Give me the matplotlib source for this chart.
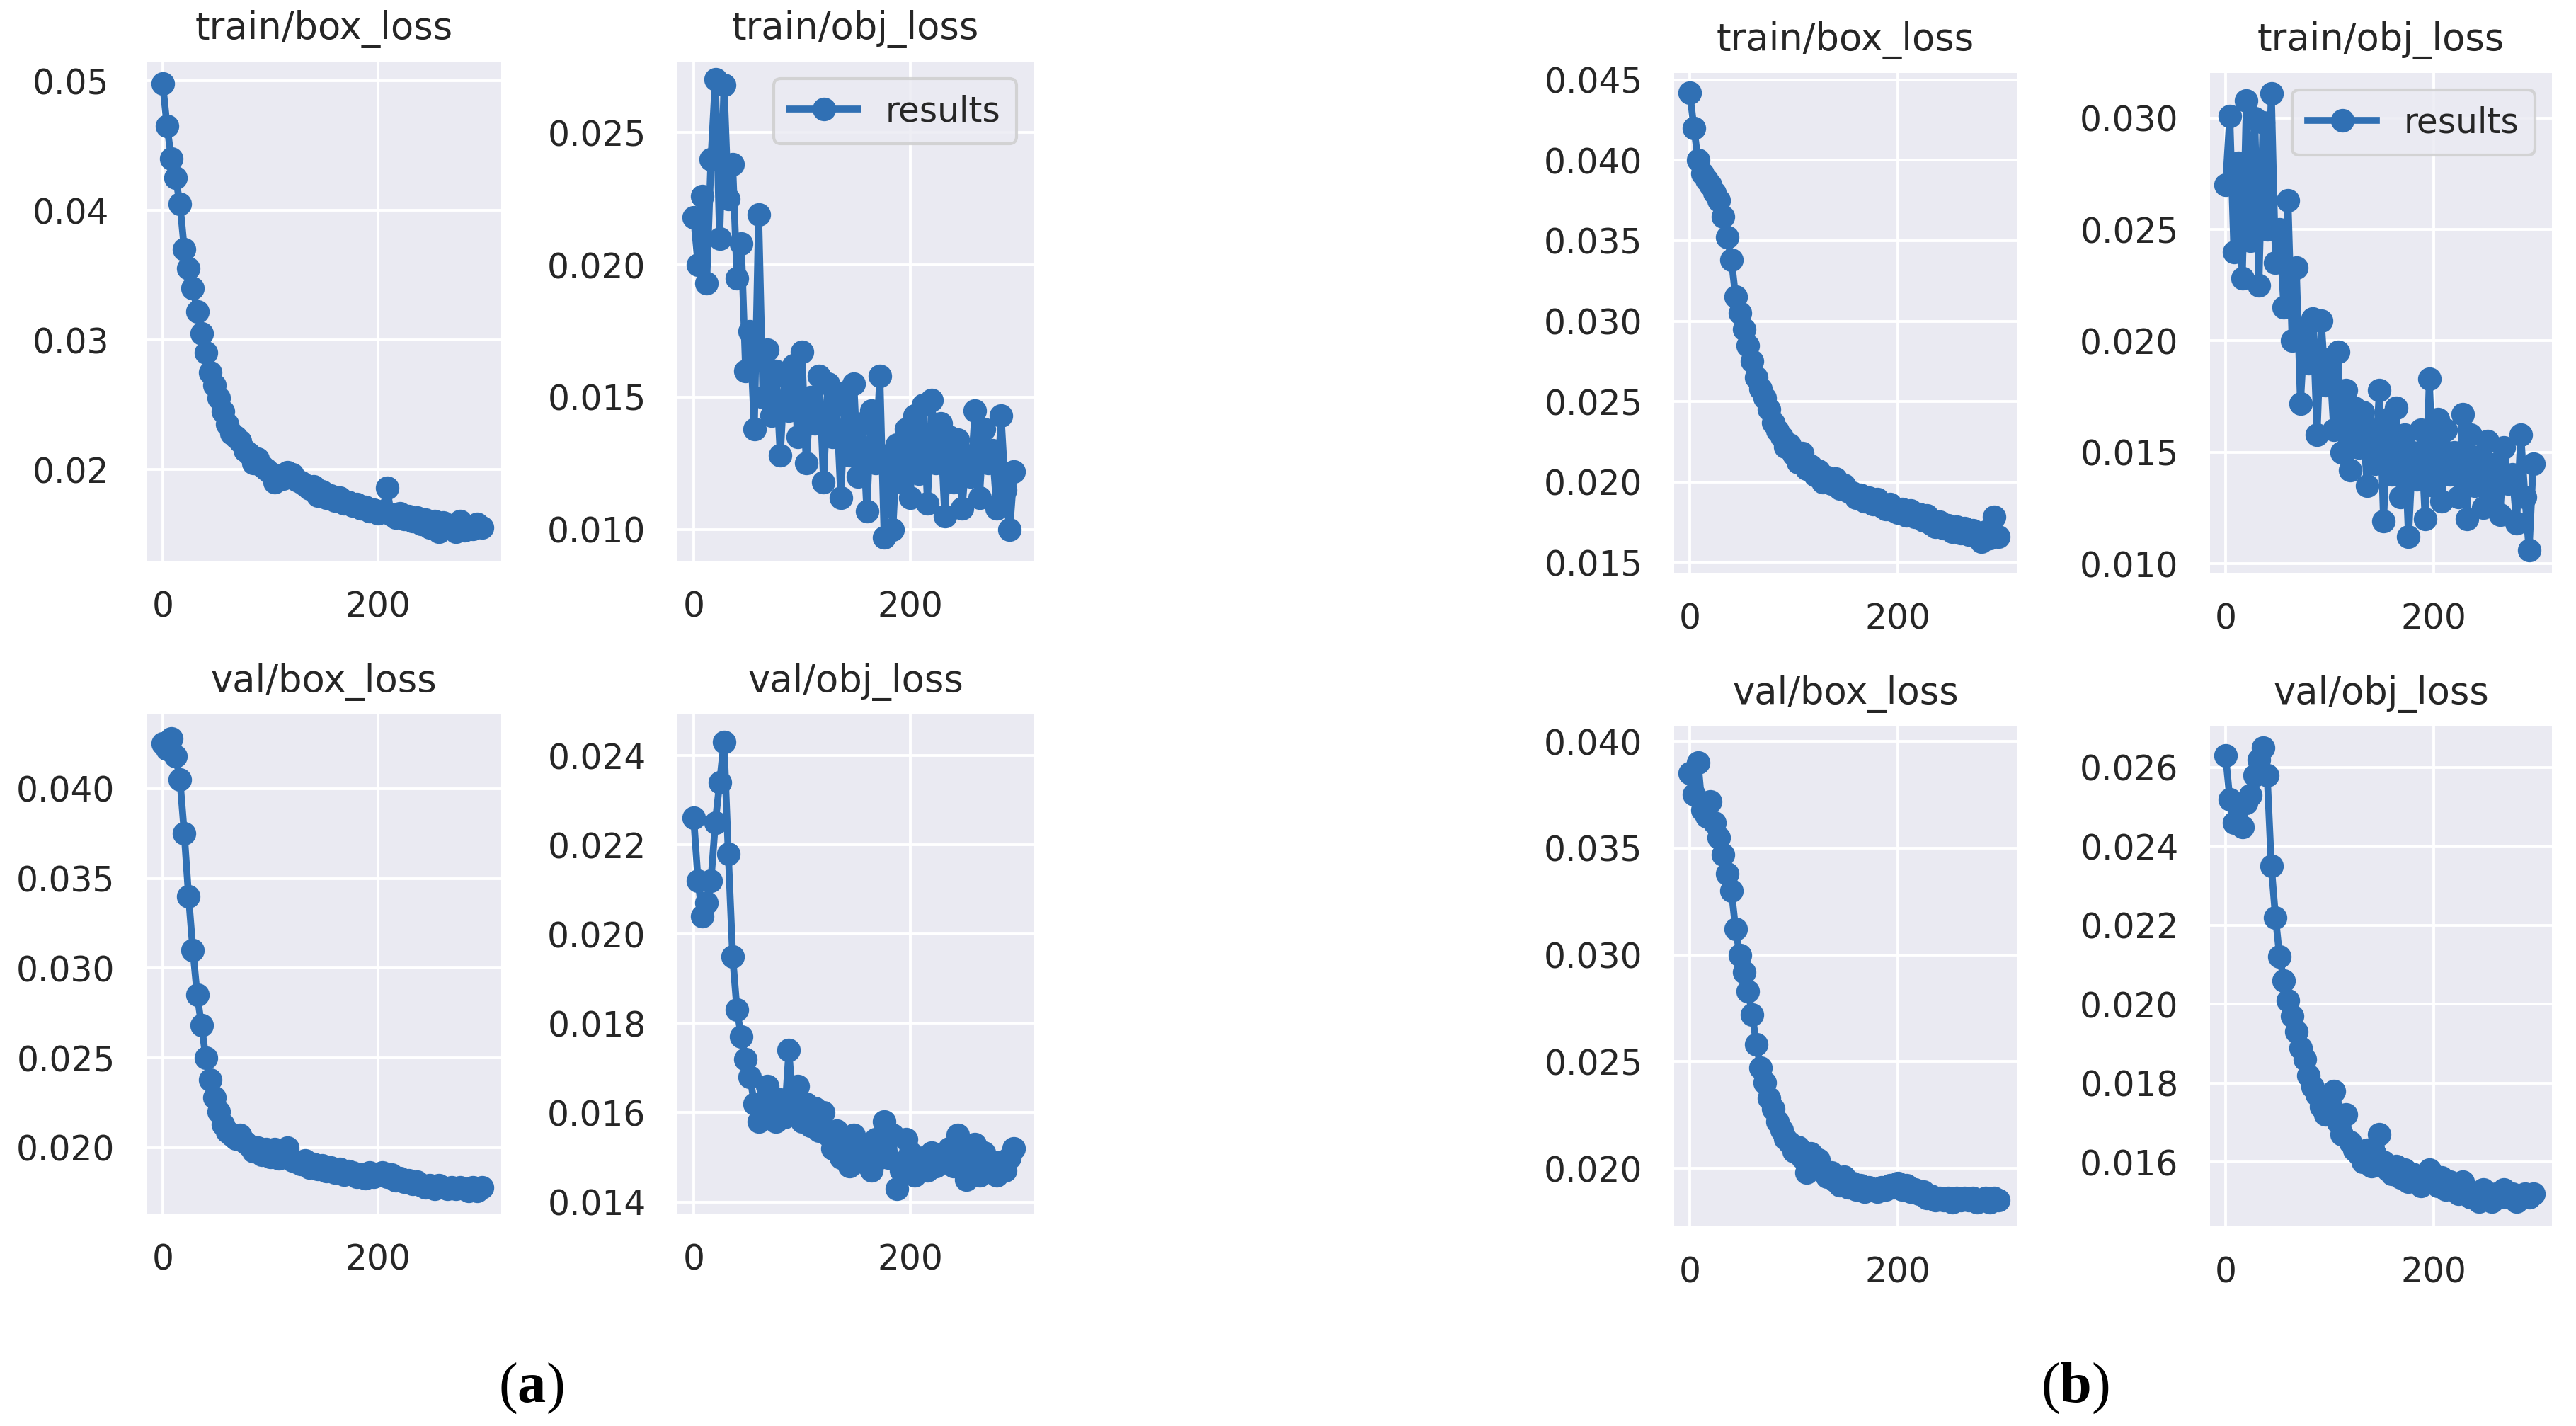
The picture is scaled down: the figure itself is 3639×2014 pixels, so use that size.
import matplotlib
matplotlib.use("Agg")
import matplotlib.pyplot as plt
import numpy as np

# epochs (every 4th epoch)
epochs = list(range(0, 300, 4))

# ---- panel (a) ----
a_train_box = [0.0498, 0.0465, 0.0440, 0.0425, 0.0405, 0.0370, 0.0355, 0.0340, 0.0322, 0.0305,
               0.0290, 0.0275, 0.0265, 0.0255, 0.0245, 0.0235, 0.0228, 0.0225, 0.0222, 0.0215,
               0.0212, 0.0205, 0.0208, 0.0203, 0.0200, 0.0197, 0.0190, 0.0195, 0.0193, 0.0198,
               0.0196, 0.0192, 0.0190, 0.0188, 0.0185, 0.0187, 0.0180, 0.0183, 0.0178, 0.0180,
               0.0176, 0.0178, 0.0174, 0.0175, 0.0172, 0.0173, 0.0170, 0.0171, 0.0168, 0.0169,
               0.0166, 0.0168, 0.0186, 0.0165, 0.0163, 0.0166, 0.0162, 0.0164, 0.0160, 0.0163,
               0.0158, 0.0161, 0.0155, 0.0160, 0.0152, 0.0159, 0.0155, 0.0157, 0.0152, 0.0160,
               0.0153, 0.0156, 0.0154, 0.0158, 0.0155]
a_train_obj = [0.0218, 0.0200, 0.0226, 0.0193, 0.0240, 0.0270, 0.0210, 0.0268, 0.0225, 0.0238,
               0.0195, 0.0208, 0.0160, 0.0175, 0.0138, 0.0219, 0.0150, 0.0168, 0.0143, 0.0160,
               0.0128, 0.0158, 0.0145, 0.0162, 0.0135, 0.0167, 0.0125, 0.0150, 0.0140, 0.0158,
               0.0118, 0.0155, 0.0135, 0.0147, 0.0112, 0.0152, 0.0128, 0.0155, 0.0120, 0.0140,
               0.0107, 0.0145, 0.0125, 0.0158, 0.0097, 0.0128, 0.0100, 0.0132, 0.0118, 0.0138,
               0.0112, 0.0143, 0.0121, 0.0147, 0.0110, 0.0149, 0.0125, 0.0140, 0.0105, 0.0135,
               0.0118, 0.0134, 0.0108, 0.0128, 0.0120, 0.0145, 0.0112, 0.0138, 0.0125, 0.0130,
               0.0108, 0.0143, 0.0115, 0.0100, 0.0122]
a_val_box = [0.0425, 0.0422, 0.0428, 0.0418, 0.0405, 0.0375, 0.0340, 0.0310, 0.0285, 0.0268,
             0.0250, 0.0238, 0.0228, 0.0220, 0.0213, 0.0209, 0.0207, 0.0205, 0.0207, 0.0203,
             0.0201, 0.0198, 0.0200, 0.0196, 0.0199, 0.0195, 0.0199, 0.0194, 0.0197, 0.0200,
             0.0193, 0.0192, 0.0191, 0.0193, 0.0189, 0.0191, 0.0188, 0.0190, 0.0187, 0.0189,
             0.0186, 0.0188, 0.0185, 0.0187, 0.0186, 0.0184, 0.0185, 0.0183, 0.0186, 0.0184,
             0.0185, 0.0186, 0.0184, 0.0185, 0.0182, 0.0183, 0.0181, 0.0182, 0.0180, 0.0181,
             0.0179, 0.0178, 0.0179, 0.0177, 0.0179, 0.0178, 0.0177, 0.0178, 0.0177, 0.0178,
             0.0177, 0.0176, 0.0178, 0.0176, 0.0178]
a_val_obj = [0.0226, 0.0212, 0.0204, 0.0207, 0.0212, 0.0225, 0.0234, 0.0243, 0.0218, 0.0195,
             0.0183, 0.0177, 0.0172, 0.0168, 0.0162, 0.0158, 0.0160, 0.0166, 0.0162, 0.0158,
             0.0163, 0.0159, 0.0174, 0.0160, 0.0166, 0.0158, 0.0162, 0.0157, 0.0161, 0.0156,
             0.0160, 0.0155, 0.0152, 0.0156, 0.0150, 0.0153, 0.0148, 0.0155, 0.0151, 0.0149,
             0.0153, 0.0147, 0.0154, 0.0150, 0.0158, 0.0150, 0.0155, 0.0143, 0.0147, 0.0154,
             0.0151, 0.0146, 0.0149, 0.0150, 0.0147, 0.0151, 0.0148, 0.0150, 0.0149, 0.0152,
             0.0148, 0.0155, 0.0150, 0.0145, 0.0149, 0.0153, 0.0146, 0.0151, 0.0147, 0.0149,
             0.0146, 0.0149, 0.0147, 0.0150, 0.0152]

# ---- panel (b) ----
b_train_box = [0.0442, 0.0420, 0.0400, 0.0392, 0.0388, 0.0385, 0.0380, 0.0375, 0.0365, 0.0352,
               0.0338, 0.0315, 0.0305, 0.0295, 0.0285, 0.0275, 0.0265, 0.0258, 0.0252, 0.0245,
               0.0237, 0.0232, 0.0228, 0.0222, 0.0223, 0.0217, 0.0212, 0.0218, 0.0208, 0.0210,
               0.0204, 0.0207, 0.0200, 0.0203, 0.0199, 0.0202, 0.0196, 0.0198, 0.0194, 0.0193,
               0.0190, 0.0192, 0.0188, 0.0190, 0.0186, 0.0189, 0.0185, 0.0183, 0.0186, 0.0182,
               0.0181, 0.0183, 0.0179, 0.0182, 0.0178, 0.0180, 0.0176, 0.0179, 0.0174, 0.0172,
               0.0175, 0.0171, 0.0173, 0.0169, 0.0172, 0.0168, 0.0171, 0.0167, 0.0170, 0.0166,
               0.0163, 0.0169, 0.0165, 0.0178, 0.0166]
b_train_obj = [0.0270, 0.0301, 0.0240, 0.0280, 0.0228, 0.0308, 0.0245, 0.0300, 0.0225, 0.0298,
               0.0250, 0.0311, 0.0235, 0.0250, 0.0215, 0.0263, 0.0200, 0.0233, 0.0172, 0.0205,
               0.0190, 0.0210, 0.0158, 0.0209, 0.0180, 0.0192, 0.0160, 0.0195, 0.0150, 0.0178,
               0.0142, 0.0170, 0.0152, 0.0168, 0.0135, 0.0160, 0.0145, 0.0178, 0.0119, 0.0165,
               0.0140, 0.0170, 0.0130, 0.0158, 0.0112, 0.0150, 0.0138, 0.0160, 0.0120, 0.0183,
               0.0135, 0.0165, 0.0128, 0.0160, 0.0140, 0.0150, 0.0130, 0.0167, 0.0120, 0.0158,
               0.0135, 0.0148, 0.0125, 0.0155, 0.0130, 0.0145, 0.0122, 0.0152, 0.0136, 0.0140,
               0.0118, 0.0158, 0.0130, 0.0106, 0.0145]
b_val_box = [0.0385, 0.0375, 0.0390, 0.0368, 0.0365, 0.0372, 0.0362, 0.0355, 0.0347, 0.0338,
             0.0330, 0.0312, 0.0300, 0.0292, 0.0283, 0.0272, 0.0258, 0.0247, 0.0240, 0.0233,
             0.0228, 0.0222, 0.0218, 0.0214, 0.0212, 0.0208, 0.0210, 0.0205, 0.0198, 0.0207,
             0.0200, 0.0204, 0.0199, 0.0196, 0.0198, 0.0194, 0.0192, 0.0196, 0.0191, 0.0193,
             0.0190, 0.0192, 0.0189, 0.0191, 0.0190, 0.0189, 0.0191, 0.0190, 0.0192, 0.0191,
             0.0193, 0.0190, 0.0192, 0.0189, 0.0190, 0.0188, 0.0189, 0.0186, 0.0187, 0.0185,
             0.0186, 0.0185, 0.0186, 0.0184, 0.0186, 0.0185, 0.0186, 0.0185, 0.0186, 0.0184,
             0.0185, 0.0186, 0.0184, 0.0186, 0.0185]
b_val_obj = [0.0263, 0.0252, 0.0246, 0.0250, 0.0245, 0.0251, 0.0253, 0.0258, 0.0262, 0.0265,
             0.0258, 0.0235, 0.0222, 0.0212, 0.0206, 0.0201, 0.0197, 0.0193, 0.0189, 0.0186,
             0.0182, 0.0179, 0.0177, 0.0174, 0.0172, 0.0175, 0.0178, 0.0170, 0.0167, 0.0172,
             0.0165, 0.0163, 0.0162, 0.0160, 0.0163, 0.0159, 0.0162, 0.0167, 0.0160, 0.0158,
             0.0157, 0.0159, 0.0156, 0.0158, 0.0155, 0.0157, 0.0155, 0.0154, 0.0156, 0.0158,
             0.0155, 0.0154, 0.0156, 0.0153, 0.0155, 0.0154, 0.0152, 0.0155, 0.0153, 0.0151,
             0.0152, 0.0150, 0.0153, 0.0151, 0.0150, 0.0152, 0.0151, 0.0153, 0.0151, 0.0152,
             0.0150, 0.0151, 0.0152, 0.0151, 0.0152]

titles = ["train/box_loss", "train/obj_loss", "val/box_loss", "val/obj_loss"]

W, H = 3639, 2014
DPI = 200
BLUE = "#3070b4"

plt.rcParams.update({
    "font.family": "DejaVu Sans",
    "text.color": "#262626",
    "xtick.color": "#262626",
    "ytick.color": "#262626",
    "axes.facecolor": "#eaeaf2",
    "mathtext.fontset": "custom",
    "mathtext.rm": "Liberation Serif",
    "mathtext.bf": "Liberation Serif:bold",
})

fig = plt.figure(figsize=(W / DPI, H / DPI), dpi=DPI)


def px_axes(x0, x1, y0, y1):
    # pixel box (top-left origin) -> figure fraction
    return fig.add_axes([x0 / W, 1 - y1 / H, (x1 - x0) / W, (y1 - y0) / H])


def draw(ax, y, title, ylim, yticks, fmt, legend=False, ypad=16):
    ax.plot(epochs, y, marker="o", markersize=11, linewidth=3.5, color=BLUE, label="results")
    ax.set_xlim(-15, 314)
    ax.set_ylim(*ylim)
    ax.set_xticks([0, 200])
    ax.set_yticks(yticks)
    ax.set_yticklabels([fmt % t for t in yticks])
    ax.grid(True, color="white", linewidth=1.4)
    ax.set_axisbelow(True)
    for s in ax.spines.values():
        s.set_visible(False)
    ax.tick_params(length=0, labelsize=17.5)
    ax.tick_params(axis="x", pad=15)
    ax.tick_params(axis="y", pad=ypad)
    ax.set_title(title, fontsize=19, pad=11.5)
    if legend:
        leg = ax.legend(loc="upper right", fontsize=17.5, frameon=True, facecolor="#eaeaf2",
                        edgecolor="#cccccc", handlelength=2.0, borderpad=0.45)
        leg.get_frame().set_linewidth(1.5)


# panel (a)
ax = px_axes(207, 708, 87, 792)
draw(ax, a_train_box, titles[0], (0.01295, 0.05148), [0.02, 0.03, 0.04, 0.05], "%.2f", ypad=19)
ax = px_axes(957, 1460, 87, 792)
draw(ax, a_train_obj, titles[1], (0.00882, 0.02768), [0.010, 0.015, 0.020, 0.025], "%.3f", legend=True)
ax = px_axes(207, 708, 1009, 1714)
draw(ax, a_val_box, titles[2], (0.01633, 0.04413), [0.020, 0.025, 0.030, 0.035, 0.040], "%.3f")
ax = px_axes(957, 1460, 1009, 1714)
draw(ax, a_val_obj, titles[3], (0.01374, 0.02492), [0.014, 0.016, 0.018, 0.020, 0.022, 0.024], "%.3f")

# panel (b)
ax = px_axes(2365, 2849, 103, 809)
draw(ax, b_train_box, titles[0], (0.01434, 0.04544), [0.015, 0.020, 0.025, 0.030, 0.035, 0.040, 0.045], "%.3f")
ax = px_axes(3122, 3605, 103, 809)
draw(ax, b_train_obj, titles[1], (0.00959, 0.03203), [0.010, 0.015, 0.020, 0.025, 0.030], "%.3f", legend=True)
ax = px_axes(2365, 2849, 1026, 1732)
draw(ax, b_val_box, titles[2], (0.01728, 0.0407), [0.020, 0.025, 0.030, 0.035, 0.040], "%.3f")
ax = px_axes(3122, 3605, 1026, 1732)
draw(ax, b_val_obj, titles[3], (0.01437, 0.02704), [0.016, 0.018, 0.020, 0.022, 0.024, 0.026], "%.3f")

fig.text(750 / W, 1 - 1961 / H, r"($\mathbf{a}$)", fontsize=29, family="Liberation Serif",
         ha="center", va="center", color="black")
fig.text(2931 / W, 1 - 1961 / H, r"($\mathbf{b}$)", fontsize=29, family="Liberation Serif",
         ha="center", va="center", color="black")

fig.savefig("out.png", dpi=DPI, facecolor="white")
